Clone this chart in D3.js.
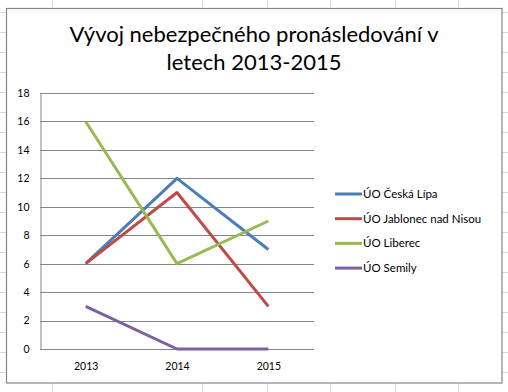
<!DOCTYPE html>
<html><head><meta charset="utf-8">
<script src="https://cdn.jsdelivr.net/npm/d3@7"></script>
<style>
html,body{margin:0;padding:0;background:#fff;}
svg{display:block;}
text{font-family:Lato,"Open Sans",sans-serif;fill:#000;}
</style></head>
<body>
<svg id="c" width="508" height="392"></svg>
<script>
const titleLines = ["Vývoj nebezpečného pronásledování v", "letech 2013-2015"];
const years = ["2013", "2014", "2015"];
const seriesNames = ["ÚO Česká Lípa", "ÚO Jablonec nad Nisou", "ÚO Liberec", "ÚO Semily"];
const ceskaLipa = [6, 12, 7];
const jablonec = [6, 11, 3];
const liberec = [16, 6, 9];
const semily = [3, 0, 0];
const colors = ["#4A7EBB", "#BE4B48", "#98B954", "#7D60A0"];
const yTicks = [0, 2, 4, 6, 8, 10, 12, 14, 16, 18];

const series = [ceskaLipa, jablonec, liberec, semily].map((v, i) => ({name: seriesNames[i], values: v, color: colors[i]}));

const svg = d3.select("#c");
const W = 508, H = 392;

// spreadsheet background grid
const sheetCols = [52, 202, 267, 330, 395, 458];
const sheetRows = d3.range(12, 393, 20);
const bg = svg.append("g");
bg.selectAll(".r").data(sheetRows).join("line")
  .attr("x1", 0).attr("x2", W).attr("y1", d => d + 0.5).attr("y2", d => d + 0.5)
  .attr("stroke", "#d9d9d9");
bg.selectAll(".cl").data(sheetCols).join("line")
  .attr("y1", 0).attr("y2", H).attr("x1", d => d + 0.5).attr("x2", d => d + 0.5)
  .attr("stroke", "#d9d9d9");

// chart box
svg.append("rect").attr("x", 6.5).attr("y", 8.5).attr("width", 495.5).attr("height", 374.5)
  .attr("fill", "#fff").attr("stroke", "#868686").attr("stroke-width", 1.2);

// title
svg.append("g").selectAll("text").data(titleLines).join("text")
  .attr("x", 254).attr("y", (d, i) => 42 + i * 27.5)
  .attr("text-anchor", "middle").style("font-size", "22px")
  .text(d => d);

const x = d3.scalePoint().domain(years).range([40, 314]).padding(0.5);
const y = d3.scaleLinear().domain([0, 18]).range([349, 93]);

// gridlines
svg.append("g").selectAll("line").data(yTicks.filter(t => t > 0)).join("line")
  .attr("x1", 40).attr("x2", 314)
  .attr("y1", d => Math.round(y(d)) + 0.5).attr("y2", d => Math.round(y(d)) + 0.5)
  .attr("stroke", "#868686");

// y axis
const ya = svg.append("g").attr("transform", "translate(40.5,0)")
  .call(d3.axisLeft(y).tickValues(yTicks).tickSize(0).tickPadding(11).tickFormat(d3.format("d")));
ya.select(".domain").attr("stroke", "#868686");
ya.selectAll("text").style("font-size", "10.5px").style("font-family", "Lato,sans-serif");

// x axis
const xa = svg.append("g").attr("transform", `translate(0,${Math.round(y(0)) + 0.5})`)
  .call(d3.axisBottom(x).tickSize(0).tickPadding(13));
xa.select(".domain").attr("stroke", "#868686").attr("d", "M40,0H314");
xa.selectAll("text").style("font-size", "10.5px").style("font-family", "Lato,sans-serif");

// lines
const line = d3.line().x((d, i) => x(years[i])).y(d => y(d));
svg.append("g").selectAll("path").data(series).join("path")
  .attr("d", d => line(d.values)).attr("fill", "none")
  .attr("stroke", d => d.color).attr("stroke-width", 3)
  .attr("stroke-linejoin", "round");

// legend
const lg = svg.append("g").selectAll("g").data(series).join("g")
  .attr("transform", (d, i) => `translate(335,${194 + i * 24.7})`);
lg.append("line").attr("x1", 0).attr("x2", 27).attr("y1", 0).attr("y2", 0)
  .attr("stroke", d => d.color).attr("stroke-width", 3);
lg.append("text").attr("x", 28).attr("y", 4).style("font-size", "11.5px").text(d => d.name);
</script>
</body></html>
